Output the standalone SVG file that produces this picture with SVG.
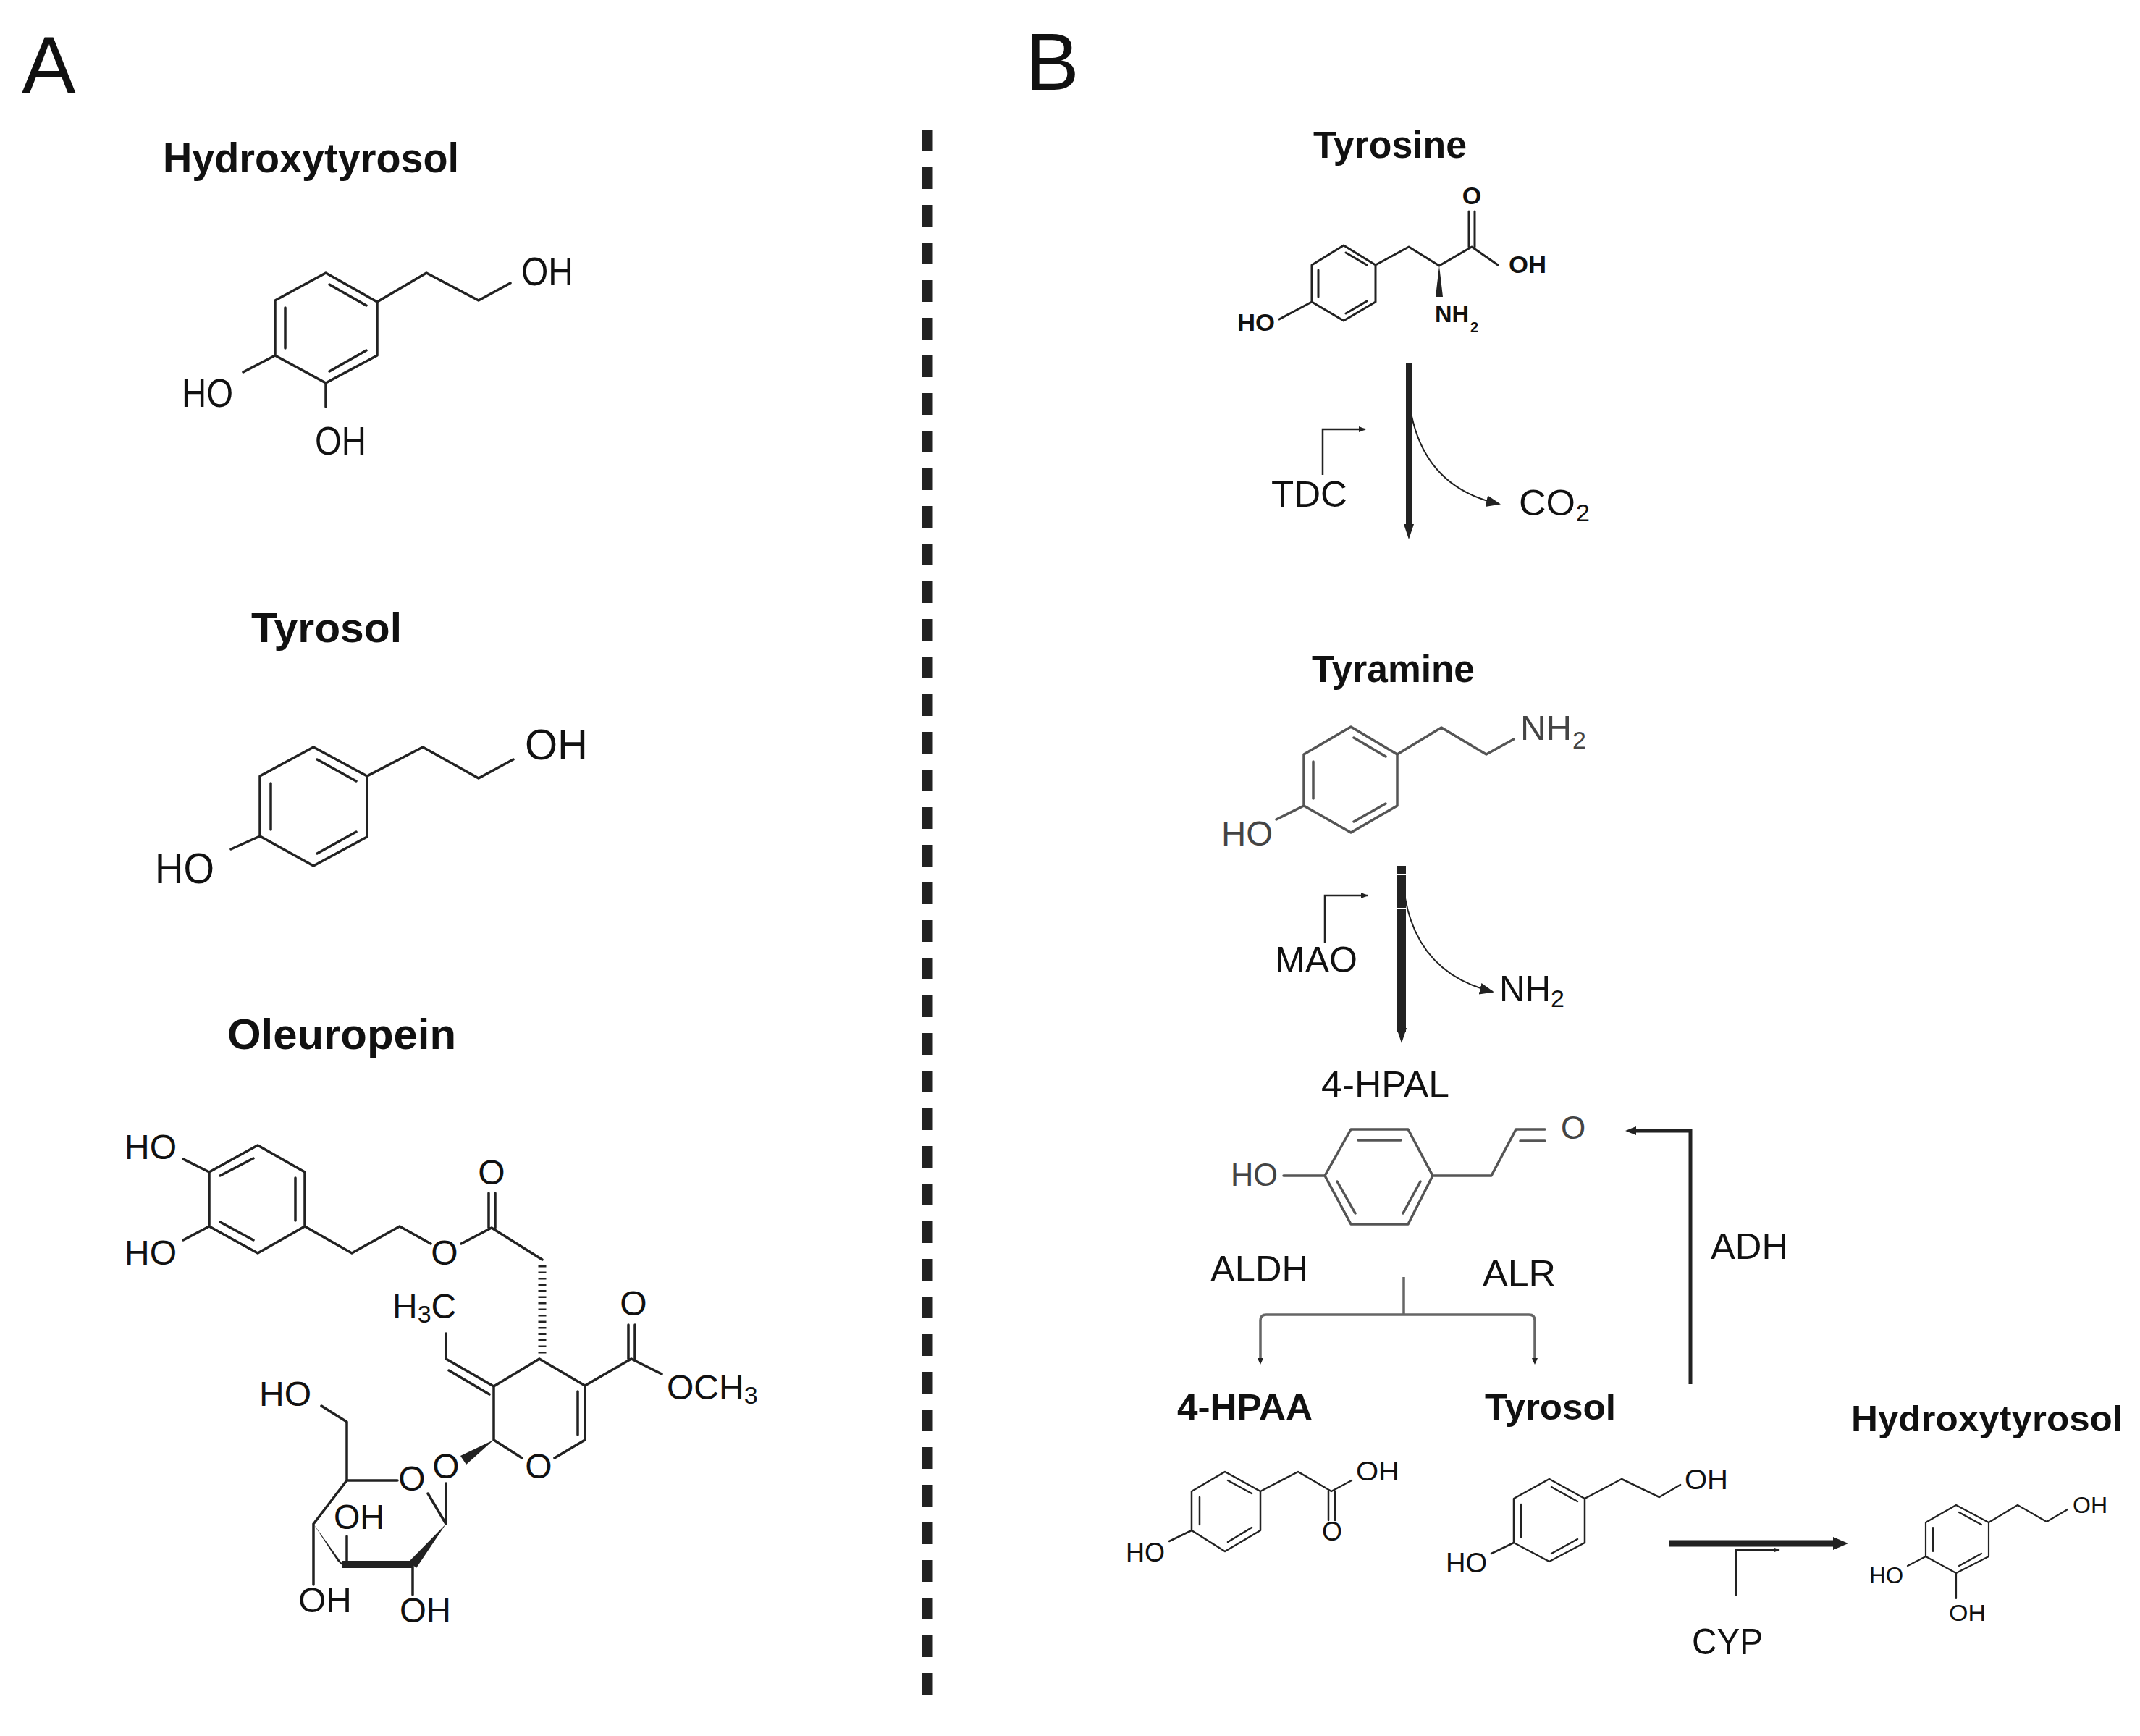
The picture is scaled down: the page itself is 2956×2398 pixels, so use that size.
<svg xmlns="http://www.w3.org/2000/svg" width="2956" height="2398" viewBox="0 0 2956 2398">
<style>
.bk{stroke:#222;stroke-width:3.5;fill:none;stroke-linecap:round;stroke-linejoin:round}
.gr{stroke:#555;stroke-width:3.5;fill:none;stroke-linecap:round;stroke-linejoin:round}
.t{font-family:"Liberation Sans",Arial,sans-serif;fill:#111}
.tb{font-family:"Liberation Sans",Arial,sans-serif;font-weight:bold;fill:#111}
.tg{font-family:"Liberation Sans",Arial,sans-serif;fill:#444}
.ar{stroke:#222;fill:none}
</style>
<defs>
<marker id="ah" viewBox="0 0 10 10" refX="9" refY="5" markerWidth="10" markerHeight="10" markerUnits="strokeWidth" orient="auto"><path d="M0,1 L10,5 L0,9 Z" fill="#222"/></marker>
<marker id="ahs" viewBox="0 0 10 10" refX="9" refY="5" markerWidth="4" markerHeight="4" markerUnits="strokeWidth" orient="auto"><path d="M0,1 L10,5 L0,9 Z" fill="#222"/></marker>
</defs>
<rect width="2956" height="2398" fill="#fff"/>
<text class="t" x="30" y="128" font-size="112">A</text>
<text class="t" x="1416" y="124" font-size="112">B</text>
<line x1="1281" y1="179" x2="1281" y2="2347" stroke="#222" stroke-width="15" stroke-dasharray="30 22"/>

<g id="a-hydroxytyrosol">
<text class="tb" x="225" y="238" font-size="57" textLength="409" lengthAdjust="spacingAndGlyphs">Hydroxytyrosol</text>
<path class="bk" d="M450,377 L521,417 L521,491 L450,529 L380,491 L380,415 Z M521,417 L589,377 L661,415 L705,391 M380,491 L336,514 M450,529 L450,562 M394,425 L394,481 M455,393 L506,422 M506,484 L455,513"/>
<text class="t" x="720" y="394" font-size="56" textLength="72" lengthAdjust="spacingAndGlyphs">OH</text>
<text class="t" x="251" y="562" font-size="56" textLength="71" lengthAdjust="spacingAndGlyphs">HO</text>
<text class="t" x="435" y="628" font-size="56" textLength="71" lengthAdjust="spacingAndGlyphs">OH</text>
</g>

<g id="a-tyrosol">
<text class="tb" x="347" y="887" font-size="57" textLength="208" lengthAdjust="spacingAndGlyphs">Tyrosol</text>
<path class="bk" d="M433,1032 L507,1072 L507,1156 L433,1196 L359,1155 L359,1072 Z M507,1072 L584,1032 L661,1075 L709,1049 M359,1155 L319,1173 M374,1082 L374,1146 M438,1049 L492,1079 M492,1149 L438,1179"/>
<text class="t" x="725" y="1049" font-size="60" textLength="87" lengthAdjust="spacingAndGlyphs">OH</text>
<text class="t" x="214" y="1220" font-size="60" textLength="82" lengthAdjust="spacingAndGlyphs">HO</text>
</g>

<g id="a-oleuropein">
<text class="tb" x="314" y="1449" font-size="60" textLength="316" lengthAdjust="spacingAndGlyphs">Oleuropein</text>
<path class="bk" d="M356,1582 L421,1619 L421,1694 L356,1731 L289,1694 L289,1619 Z M304,1624 L350,1600 M408,1627 L408,1686 M304,1688 L350,1713 M289,1619 L253,1601 M289,1694 L253,1713 M421,1694 L486,1731 L552,1694 L595,1718 M637,1718 L679,1696 L749,1740 M675,1696 L675,1648 M684,1696 L684,1648 M745,1877 L808,1914 L872,1877 L914,1898 M868,1877 L868,1830 M877,1877 L877,1830 M808,1914 L808,1989 L766,2014 M798,1922 L798,1982 M721,2014 L682,1989 L682,1915 L745,1877 M682,1915 L616,1877 L616,1842 M676,1926 L620,1893 M479,2045 L549,2045 M591,2063 L616,2105 M616,2049 L616,2105 M433,2105 L479,2045 L479,1964 L444,1942 M433,2105 L433,2189 M479,2161 L479,2122 M570,2161 L570,2203"/>
<line x1="749" y1="1748" x2="749" y2="1873" stroke="#222" stroke-width="11" stroke-dasharray="2.5 6"/>
<polygon points="682,1989 636,2011 644,2023" fill="#222"/>
<polygon points="616,2105 565,2157 575,2166" fill="#222"/>
<line x1="570" y1="2161" x2="472" y2="2161" stroke="#222" stroke-width="10"/>
<polygon points="466,2156 477,2166 433,2105" fill="#222"/>
<g class="t" font-size="48">
<text x="172" y="1601" textLength="72" lengthAdjust="spacingAndGlyphs">HO</text>
<text x="172" y="1747" textLength="72" lengthAdjust="spacingAndGlyphs">HO</text>
<text x="614" y="1747" text-anchor="middle">O</text>
<text x="679" y="1636" text-anchor="middle">O</text>
<text x="875" y="1817" text-anchor="middle">O</text>
<text x="921" y="1933">OCH<tspan font-size="34" dy="6">3</tspan></text>
<text x="542" y="1821">H<tspan font-size="34" dy="6">3</tspan><tspan dy="-6">C</tspan></text>
<text x="744" y="2042" text-anchor="middle">O</text>
<text x="616" y="2042" text-anchor="middle">O</text>
<text x="569" y="2059" text-anchor="middle">O</text>
<text x="358" y="1942" textLength="72" lengthAdjust="spacingAndGlyphs">HO</text>
<text x="461" y="2112" textLength="70" lengthAdjust="spacingAndGlyphs">OH</text>
<text x="412" y="2227" textLength="74" lengthAdjust="spacingAndGlyphs">OH</text>
<text x="552" y="2241" textLength="71" lengthAdjust="spacingAndGlyphs">OH</text>
</g>
</g>

<g id="b-tyrosine">
<text class="tb" x="1814" y="218" font-size="51" textLength="212" lengthAdjust="spacingAndGlyphs">Tyrosine</text>
<path class="bk" style="stroke-width:3" d="M1856,339 L1900,366 L1900,417 L1856,443 L1812,417 L1812,366 Z M1859,349 L1888,366 M1821,373 L1821,410 M1888,416 L1859,433 M1812,417 L1767,441 M1900,366 L1946,341 L1988,367 L2033,341 L2069,366 M2029,341 L2029,292 M2037,341 L2037,292"/>
<polygon points="1988,367 1983,410 1993,410" fill="#222"/>
<g class="tb" font-size="34">
<text x="1709" y="457" textLength="52" lengthAdjust="spacingAndGlyphs">HO</text>
<text x="2033" y="282" text-anchor="middle">O</text>
<text x="2084" y="377" textLength="52" lengthAdjust="spacingAndGlyphs">OH</text>
<text x="1982" y="445" textLength="47" lengthAdjust="spacingAndGlyphs">NH</text>
<text x="2031" y="459" font-size="20">2</text>
</g>
</g>

<g id="b-tyramine">
<text class="tb" x="1812" y="942" font-size="51" textLength="225" lengthAdjust="spacingAndGlyphs">Tyramine</text>
<path class="gr" d="M1866,1004 L1930,1042 L1930,1113 L1866,1150 L1801,1113 L1801,1042 Z M1870,1019 L1914,1045 M1814,1052 L1814,1103 M1914,1110 L1870,1135 M1930,1042 L1991,1005 L2053,1042 L2091,1021 M1801,1113 L1763,1132"/>
<g class="tg" font-size="48">
<text x="2100" y="1022" textLength="71" lengthAdjust="spacingAndGlyphs">NH</text>
<text x="2172" y="1034" font-size="34">2</text>
<text x="1687" y="1168" textLength="71" lengthAdjust="spacingAndGlyphs">HO</text>
</g>
</g>

<g id="b-4hpal">
<text class="t" x="1825" y="1515" font-size="50" textLength="177" lengthAdjust="spacingAndGlyphs">4-HPAL</text>
<path class="gr" d="M1830,1624 L1866,1560 L1945,1560 L1979,1624 L1945,1691 L1866,1691 Z M1876,1575 L1935,1575 M1847,1632 L1872,1676 M1938,1676 L1962,1632 M1830,1624 L1773,1624 M1979,1624 L2060,1624 L2094,1560 L2134,1560 M2100,1576 L2134,1576"/>
<text class="tg" x="1700" y="1638" font-size="44" textLength="65" lengthAdjust="spacingAndGlyphs">HO</text>
<text class="tg" x="2173" y="1573" font-size="44" text-anchor="middle">O</text>
</g>

<g id="b-4hpaa">
<text class="tb" x="1626" y="1961" font-size="50" textLength="187" lengthAdjust="spacingAndGlyphs">4-HPAA</text>
<path class="bk" style="stroke-width:2.5" d="M1692,2033 L1741,2060 L1741,2114 L1692,2143 L1646,2114 L1646,2060 Z M1657,2068 L1657,2106 M1696,2045 L1729,2063 M1729,2110 L1696,2130 M1646,2114 L1615,2129 M1741,2060 L1793,2033 L1839,2060 L1867,2045 M1835,2060 L1835,2100 M1844,2060 L1844,2100"/>
<g class="t" font-size="36">
<text x="1873" y="2045" textLength="60" lengthAdjust="spacingAndGlyphs">OH</text>
<text x="1840" y="2128" text-anchor="middle">O</text>
<text x="1555" y="2157" textLength="54" lengthAdjust="spacingAndGlyphs">HO</text>
</g>
</g>

<g id="b-tyrosol">
<text class="tb" x="2051" y="1961" font-size="50" textLength="181" lengthAdjust="spacingAndGlyphs">Tyrosol</text>
<path class="bk" style="stroke-width:2.5" d="M2140,2043 L2189,2070 L2189,2131 L2140,2157 L2091,2131 L2091,2070 Z M2101,2078 L2101,2123 M2143,2054 L2179,2074 M2179,2126 L2143,2146 M2189,2070 L2240,2043 L2292,2068 L2321,2051 M2091,2131 L2060,2146"/>
<g class="t" font-size="38">
<text x="2327" y="2057" textLength="60" lengthAdjust="spacingAndGlyphs">OH</text>
<text x="1997" y="2172" textLength="57" lengthAdjust="spacingAndGlyphs">HO</text>
</g>
</g>

<g id="b-hydroxytyrosol">
<text class="tb" x="2557" y="1977" font-size="50" textLength="375" lengthAdjust="spacingAndGlyphs">Hydroxytyrosol</text>
<path class="bk" style="stroke-width:2.2" d="M2702,2079 L2747,2103 L2747,2150 L2702,2173 L2660,2150 L2660,2103 Z M2670,2110 L2670,2143 M2706,2089 L2737,2106 M2737,2146 L2706,2163 M2747,2103 L2787,2079 L2827,2102 L2856,2085 M2660,2150 L2635,2163 M2702,2173 L2702,2208"/>
<g class="t" font-size="32">
<text x="2863" y="2090" textLength="48" lengthAdjust="spacingAndGlyphs">OH</text>
<text x="2582" y="2187" textLength="47" lengthAdjust="spacingAndGlyphs">HO</text>
<text x="2692" y="2239" textLength="51" lengthAdjust="spacingAndGlyphs">OH</text>
</g>
</g>

<g id="connectors">
<line x1="1946" y1="501" x2="1946" y2="728" stroke="#222" stroke-width="8"/>
<polygon points="1939,724 1953,724 1946,745" fill="#222"/>
<path class="ar" stroke-width="2.5" d="M1827,656 L1827,593 L1886,593" marker-end="url(#ahs)"/>
<path class="ar" stroke-width="2" d="M1950,575 Q1972,675 2071,696" marker-end="url(#ah)"/>
<line x1="1936" y1="1196" x2="1936" y2="1425" stroke="#222" stroke-width="12"/>
<line x1="1928" y1="1208" x2="1944" y2="1208" stroke="#fff" stroke-width="2"/>
<line x1="1928" y1="1255" x2="1944" y2="1255" stroke="#fff" stroke-width="2"/>
<polygon points="1929,1420 1943,1420 1936,1441" fill="#222"/>
<path class="ar" stroke-width="2.5" d="M1830,1303 L1830,1237 L1889,1237" marker-end="url(#ahs)"/>
<path class="ar" stroke-width="2" d="M1941,1241 Q1960,1345 2062,1370" marker-end="url(#ah)"/>
<path d="M1939,1764 L1939,1816 M1741,1882 L1741,1824 Q1741,1816 1749,1816 L2112,1816 Q2120,1816 2120,1824 L2120,1882" stroke="#666" stroke-width="3.5" fill="none"/>
<polygon points="1737,1876 1745,1876 1741,1885" fill="#222"/>
<polygon points="2116,1876 2124,1876 2120,1885" fill="#222"/>
<path class="ar" stroke-width="5" d="M2335,1912 L2335,1562 L2256,1562"/>
<polygon points="2260,1556 2260,1568 2245,1562" fill="#222"/>
<line x1="2305" y1="2132" x2="2536" y2="2132" stroke="#222" stroke-width="9"/>
<polygon points="2532,2123 2532,2141 2553,2132" fill="#222"/>
<path class="ar" stroke-width="2" d="M2398,2205 L2398,2141 L2458,2141" marker-end="url(#ahs)"/>
</g>

<g id="labels">
<text class="t" x="1756" y="700" font-size="50" textLength="105" lengthAdjust="spacingAndGlyphs">TDC</text>
<text class="t" x="2098" y="712" font-size="50" textLength="78" lengthAdjust="spacingAndGlyphs">CO</text>
<text class="t" x="2177" y="720" font-size="34">2</text>
<text class="t" x="1761" y="1343" font-size="50" textLength="114" lengthAdjust="spacingAndGlyphs">MAO</text>
<text class="t" x="2071" y="1383" font-size="50" textLength="71" lengthAdjust="spacingAndGlyphs">NH</text>
<text class="t" x="2142" y="1391" font-size="34">2</text>
<text class="t" x="1672" y="1770" font-size="50" textLength="135" lengthAdjust="spacingAndGlyphs">ALDH</text>
<text class="t" x="2048" y="1776" font-size="50" textLength="101" lengthAdjust="spacingAndGlyphs">ALR</text>
<text class="t" x="2363" y="1739" font-size="50" textLength="107" lengthAdjust="spacingAndGlyphs">ADH</text>
<text class="t" x="2337" y="2285" font-size="50" textLength="98" lengthAdjust="spacingAndGlyphs">CYP</text>
</g>
</svg>
